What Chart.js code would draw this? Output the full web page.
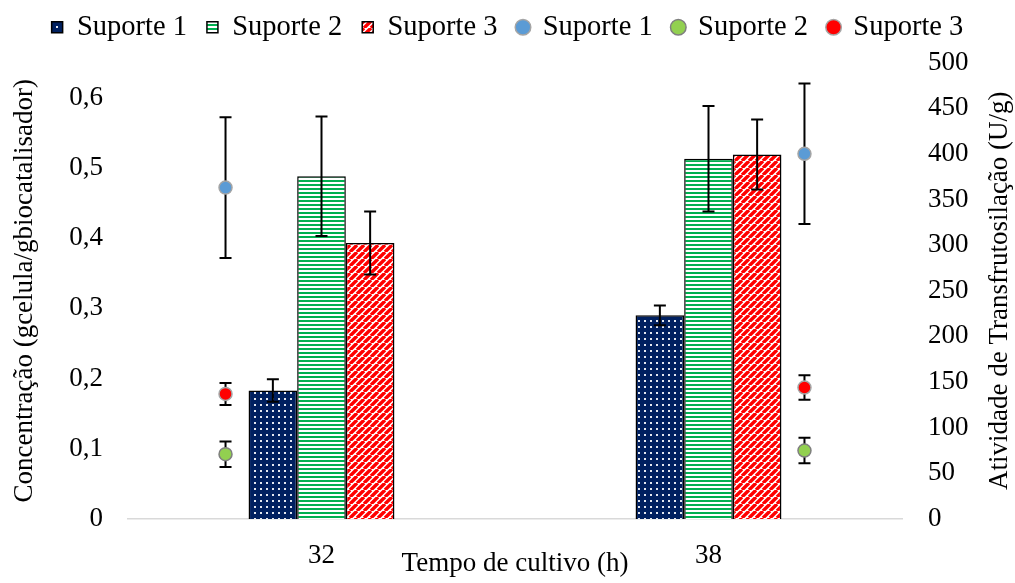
<!DOCTYPE html>
<html>
<head>
<meta charset="utf-8">
<script src="https://cdn.jsdelivr.net/npm/chart.js@4/dist/chart.umd.min.js"></script>
<style>
  html, body { margin: 0; padding: 0; background: #fff; }
  #wrap { width: 1015px; height: 583px; }
</style>
</head>
<body>
<div id="wrap"><canvas id="chart"></canvas></div>
<script>
// data
const categories = ["32", "38"];
const suporte1Conc = [0.183, 0.29];
const suporte2Conc = [0.488, 0.513];
const suporte3Conc = [0.393, 0.519];
const suporte1ConcErr = [0.016, 0.014];
const suporte2ConcErr = [0.085, 0.075];
const suporte3ConcErr = [0.045, 0.05];

const suporte1Atv = [363, 400];
const suporte2Atv = [71, 75];
const suporte3Atv = [137, 144];
const suporte1AtvErr = [77, 77];
const suporte2AtvErr = [14, 14];
const suporte3AtvErr = [12, 13.5];
// the activity points sit beside the bar groups (in category units)
const atvSlot = [-0.248, 1.248];

const leftTicks = [0, 0.1, 0.2, 0.3, 0.4, 0.5, 0.6];
const rightTitle = "Atividade de Transfrutosilação (U/g)";

// fill patterns like the excel ones
function makePattern(w, h, draw) {
    const c = document.createElement("canvas");
    c.width = w;
    c.height = h;
    draw(c.getContext("2d"));
    return c.getContext("2d").createPattern(c, "repeat");
}
const dotsNavy = makePattern(6, 6, (g) => {
    g.fillStyle = "#002060";
    g.fillRect(0, 0, 6, 6);
    g.fillStyle = "#e4e8f0";
    g.fillRect(2, 2, 2, 2);
});
const linesGreen = makePattern(4, 4, (g) => {
    g.fillStyle = "#ffffff";
    g.fillRect(0, 0, 4, 4);
    g.fillStyle = "#00B050";
    g.fillRect(0, 0, 4, 2);
});
const diagRed = makePattern(7, 7, (g) => {
    g.fillStyle = "#ffffff";
    g.fillRect(0, 0, 7, 7);
    g.strokeStyle = "#FF0000";
    g.lineWidth = 3.4;
    g.beginPath();
    for (let k = -7; k <= 14; k += 7) {
        g.moveTo(k, 7);
        g.lineTo(k + 7, 0);
    }
    g.stroke();
});

const fmt = (v) => (v === 0 ? "0" : v.toFixed(1).replace(".", ","));
const pts = (xs, ys) => xs.map((x, i) => ({ x: x, y: ys[i] }));
const onCats = (ys) => ys.map((y, i) => ({ x: i, y: y }));

// error bars
function drawErr(chart, idx, errs) {
    const meta = chart.getDatasetMeta(idx);
    const yScale = chart.scales[meta.yAxisID];
    const ctx = chart.ctx;
    const vals = chart.data.datasets[idx].data.map((d) => d.y);
    ctx.save();
    ctx.strokeStyle = "#000";
    ctx.lineWidth = 2;
    meta.data.forEach((el, i) => {
        const x = el.x;
        const yTop = yScale.getPixelForValue(vals[i] + errs[i]);
        const yBot = yScale.getPixelForValue(vals[i] - errs[i]);
        ctx.beginPath();
        ctx.moveTo(x, yTop);
        ctx.lineTo(x, yBot);
        ctx.moveTo(x - 6, yTop);
        ctx.lineTo(x + 6, yTop);
        ctx.moveTo(x - 6, yBot);
        ctx.lineTo(x + 6, yBot);
        ctx.stroke();
    });
    ctx.restore();
}
const errorBars = {
    id: "errorBars",
    beforeDatasetsDraw(chart) {
        drawErr(chart, 3, suporte1AtvErr);
        drawErr(chart, 4, suporte2AtvErr);
        drawErr(chart, 5, suporte3AtvErr);
    },
    afterDatasetsDraw(chart) {
        drawErr(chart, 0, suporte1ConcErr);
        drawErr(chart, 1, suporte2ConcErr);
        drawErr(chart, 2, suporte3ConcErr);
    },
};

// right title reads bottom to top like in excel; legend nudged up
const extras = {
    id: "extras",
    afterLayout(chart) {
        chart.legend.top -= 11;
        chart.legend.bottom -= 11;
    },
    afterDraw(chart) {
        const ctx = chart.ctx;
        const area = chart.chartArea;
        ctx.save();
        ctx.translate(1000, (area.top + area.bottom) / 2);
        ctx.rotate(-Math.PI / 2);
        ctx.font = "27px 'Liberation Serif', 'Times New Roman', serif";
        ctx.fillStyle = "#000";
        ctx.textAlign = "center";
        ctx.textBaseline = "middle";
        ctx.fillText(rightTitle, 0, 0);
        ctx.restore();
    },
};

Chart.defaults.font.family = "'Liberation Serif', 'Times New Roman', serif";
Chart.defaults.font.size = 27;
Chart.defaults.color = "#000";

const barStyle = { borderColor: "#000", borderWidth: 1.5, yAxisID: "y" };
const scatterStyle = { type: "scatter", borderWidth: 1.5, pointRadius: 6.5, yAxisID: "y2" };

const ctx = document.getElementById("chart").getContext("2d");
new Chart(ctx, {
    type: "bar",
    data: {
        datasets: [
            { ...barStyle, label: "Suporte 1", data: onCats(suporte1Conc), backgroundColor: dotsNavy },
            { ...barStyle, label: "Suporte 2", data: onCats(suporte2Conc), backgroundColor: linesGreen },
            { ...barStyle, label: "Suporte 3", data: onCats(suporte3Conc), backgroundColor: diagRed },
            { ...scatterStyle, label: "Suporte 1", data: pts(atvSlot, suporte1Atv), backgroundColor: "#5B9BD5", borderColor: "#A5A5A5" },
            { ...scatterStyle, label: "Suporte 2", data: pts(atvSlot, suporte2Atv), backgroundColor: "#92D050", borderColor: "#7f7f7f" },
            { ...scatterStyle, label: "Suporte 3", data: pts(atvSlot, suporte3Atv), backgroundColor: "#FF0000", borderColor: "#A5A5A5" },
        ],
    },
    options: {
        responsive: true,
        maintainAspectRatio: false,
        animation: false,
        layout: { padding: { top: 4, left: 0, right: 0, bottom: 0 } },
        datasets: {
            bar: { categoryPercentage: 0.377, barPercentage: 1 },
        },
        scales: {
            x: {
                type: "linear",
                min: -0.5,
                max: 1.5,
                offset: false,
                grid: { display: false, drawTicks: false },
                border: { display: true, color: "#d9d9d9", width: 1.5 },
                ticks: { padding: 21, callback: (v) => categories[v] },
                afterBuildTicks: (s) => {
                    s.ticks = categories.map((c, i) => ({ value: i }));
                },
                title: { display: true, text: "Tempo de cultivo (h)", padding: { top: 0, bottom: 3 } },
                afterFit: (s) => { s.height = 64; },
            },
            y: {
                position: "left",
                min: 0,
                max: 0.65,
                grid: { display: false, drawTicks: false },
                border: { display: false },
                ticks: { stepSize: 0.1, padding: 25, callback: (v) => fmt(v) },
                afterBuildTicks: (s) => {
                    s.ticks = leftTicks.map((v) => ({ value: v }));
                },
                title: { display: true, text: "Concentração (gcelula/gbiocatalisador)", padding: { top: 9, bottom: 0 } },
                afterFit: (s) => { s.width = 128; },
            },
            y2: {
                position: "right",
                min: 0,
                max: 500,
                grid: { display: false, drawTicks: false },
                border: { display: false },
                ticks: { stepSize: 50, padding: 26 },
                afterFit: (s) => { s.width = 113; },
            },
        },
        plugins: {
            legend: {
                position: "top",
                labels: {
                    usePointStyle: true,
                    boxWidth: 11,
                    boxHeight: 11,
                    padding: 20,
                    font: { size: 28.5 },
                    generateLabels: (chart) => {
                        const items = Chart.defaults.plugins.legend.labels.generateLabels(chart);
                        items.forEach((it, i) => {
                            it.pointStyle = i < 3 ? "rect" : "circle";
                        });
                        return items;
                    },
                },
            },
            tooltip: { enabled: false },
        },
    },
    plugins: [errorBars, extras],
});
</script>
</body>
</html>
